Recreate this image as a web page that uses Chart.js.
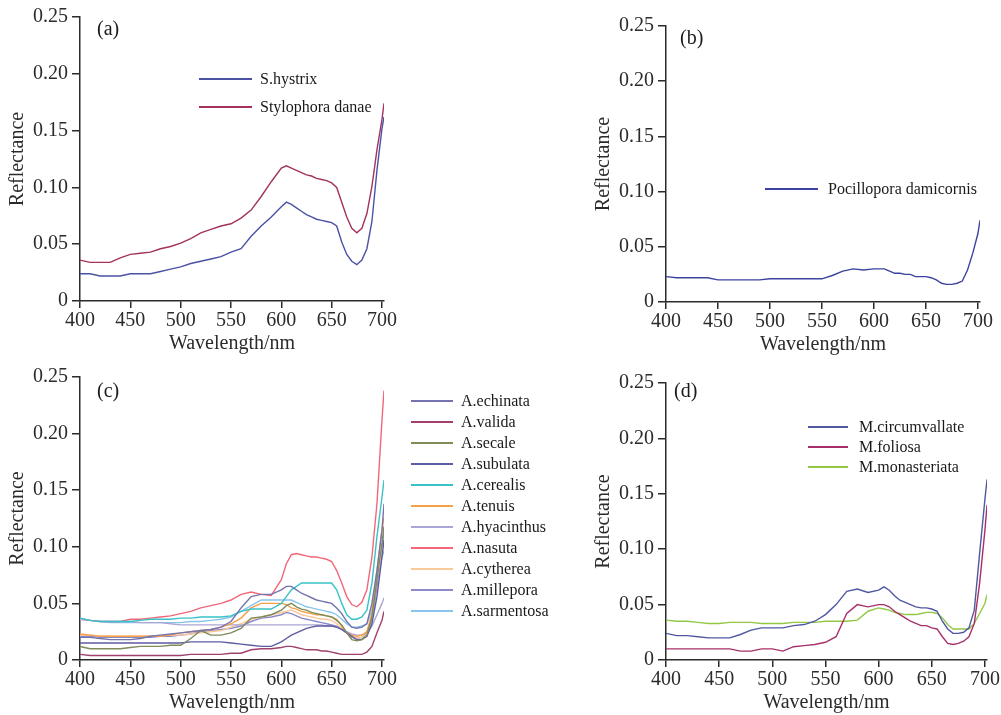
<!DOCTYPE html>
<html>
<head>
<meta charset="utf-8">
<script src="https://cdn.jsdelivr.net/npm/chart.js@4/dist/chart.umd.min.js"></script>
<style>
  html, body { margin: 0; padding: 0; background: #fff; }
  #page { position: relative; width: 1001px; height: 715px; overflow: hidden; }
  #page canvas { position: absolute; left: 0; top: 0; }
</style>
</head>
<body>
<div id="page">
  <canvas id="panelA" width="1001" height="715"></canvas>
  <canvas id="panelB" width="1001" height="715"></canvas>
  <canvas id="panelC" width="1001" height="715"></canvas>
  <canvas id="panelD" width="1001" height="715"></canvas>
</div>
<script>
// wavelength sampling (nm), shared by every spectrum below
const wavelength = [
  400, 410, 420, 430, 440, 450, 460, 470, 480, 490, 500,
  510, 520, 530, 540, 550, 560, 570, 580, 590, 600,
  605, 610, 615, 620, 625, 630, 635, 640, 645, 650,
  655, 660, 665, 670, 675, 680, 685, 690, 695, 700,
  702
];
const xTicks = [400, 450, 500, 550, 600, 650, 700];
const yTicks = [0, 0.05, 0.1, 0.15, 0.2, 0.25];

// (a)
const sHystrix = [
  .024, .024, .022, .022, .022, .024, .024, .024, .026, .028, .030,
  .033, .035, .037, .039, .043, .046, .057, .066, .074, .083,
  .087, .085, .082, .079, .076, .074, .072, .071, .070, .069,
  .066, .052, .041, .035, .032, .036, .046, .070, .115, .152,
  .162
];
const stylophoraDanae = [
  .036, .034, .034, .034, .038, .041, .042, .043, .046, .048, .051,
  .055, .060, .063, .066, .068, .073, .080, .092, .105, .117,
  .119, .117, .115, .113, .111, .110, .108, .107, .106, .104,
  .100, .087, .074, .064, .060, .064, .077, .101, .133, .160,
  .174
];

// (b)
const pocillopora = [
  .023, .022, .022, .022, .022, .020, .020, .020, .020, .020, .021,
  .021, .021, .021, .021, .021, .024, .028, .030, .029, .030,
  .030, .030, .028, .026, .026, .025, .025, .023, .023, .023,
  .022, .020, .017, .016, .016, .017, .019, .029, .044, .062,
  .074
];

// (c) Acropora
const aEchinata = [
  .020, .020, .019, .018, .018, .018, .019, .021, .022, .023, .024,
  .025, .026, .027, .029, .034, .046, .056, .058, .058, .062,
  .065, .065, .062, .059, .057, .055, .053, .052, .051, .050,
  .046, .041, .034, .029, .028, .029, .032, .050, .079, .115,
  .138
];
const aValida = [
  .005, .004, .004, .004, .004, .004, .004, .004, .004, .004, .004,
  .005, .005, .005, .005, .006, .006, .009, .010, .010, .011,
  .012, .012, .011, .010, .009, .009, .009, .008, .008, .007,
  .006, .005, .005, .005, .005, .005, .007, .012, .024, .035,
  .043
];
const aSecale = [
  .012, .010, .010, .010, .010, .011, .012, .012, .012, .013, .013,
  .019, .026, .022, .022, .024, .028, .037, .038, .040, .044,
  .048, .050, .047, .045, .044, .042, .041, .040, .039, .038,
  .035, .031, .024, .018, .017, .018, .022, .038, .071, .103,
  .118
];
const aSubulata = [
  .015, .015, .015, .015, .015, .015, .015, .015, .015, .015, .015,
  .016, .016, .016, .016, .015, .014, .013, .012, .012, .016,
  .019, .022, .024, .026, .028, .029, .030, .030, .030, .030,
  .029, .027, .024, .021, .018, .018, .021, .032, .056, .091,
  .106
];
const aCerealis = [
  .037, .035, .034, .034, .034, .034, .035, .036, .036, .036, .037,
  .037, .038, .038, .038, .039, .043, .045, .045, .045, .050,
  .056, .062, .065, .068, .068, .068, .068, .068, .068, .068,
  .062, .050, .040, .036, .036, .038, .044, .068, .109, .144,
  .159
];
const aTenuis = [
  .023, .022, .021, .021, .021, .021, .021, .021, .021, .022, .024,
  .025, .026, .027, .029, .032, .037, .046, .050, .050, .050,
  .049, .046, .045, .043, .042, .041, .040, .040, .039, .038,
  .036, .030, .024, .022, .021, .022, .025, .041, .079, .115,
  .126
];
const aHyacinthus = [
  .036, .035, .034, .034, .034, .034, .033, .033, .033, .032, .031,
  .031, .031, .031, .031, .031, .031, .031, .031, .031, .031,
  .031, .031, .031, .031, .031, .031, .031, .031, .030, .030,
  .029, .027, .025, .023, .022, .022, .024, .030, .040, .050,
  .055
];
const aNasuta = [
  .036, .035, .034, .034, .034, .036, .036, .037, .038, .039, .041,
  .043, .046, .048, .050, .053, .058, .060, .058, .057, .071,
  .085, .093, .094, .093, .092, .091, .091, .090, .089, .087,
  .079, .068, .056, .049, .047, .051, .062, .091, .138, .212,
  .238
];
const aCytherea = [
  .022, .022, .021, .021, .021, .021, .021, .021, .022, .022, .022,
  .023, .024, .025, .026, .029, .032, .036, .038, .040, .042,
  .043, .044, .042, .040, .039, .038, .037, .036, .036, .035,
  .032, .028, .024, .021, .019, .020, .024, .038, .071, .097,
  .103
];
const aMillepora = [
  .021, .021, .020, .020, .020, .020, .020, .020, .021, .021, .022,
  .023, .025, .026, .027, .028, .030, .034, .037, .038, .040,
  .042, .041, .039, .037, .036, .035, .034, .033, .032, .031,
  .030, .027, .024, .020, .019, .020, .024, .036, .065, .100,
  .113
];
const aSarmentosa = [
  .037, .035, .034, .033, .033, .033, .033, .033, .033, .033, .033,
  .034, .034, .035, .036, .038, .043, .048, .053, .053, .053,
  .053, .053, .051, .049, .047, .046, .045, .044, .043, .042,
  .040, .036, .032, .029, .029, .030, .032, .044, .071, .091,
  .096
];

// (d) Montipora
const mCircumvallate = [
  .024, .022, .022, .021, .020, .020, .020, .023, .027, .029, .029,
  .029, .031, .032, .035, .041, .050, .062, .064, .061, .063,
  .066, .063, .058, .054, .052, .050, .048, .047, .047, .046,
  .044, .035, .028, .024, .024, .025, .029, .045, .096, .145,
  .163
];
const mFoliosa = [
  .010, .010, .010, .010, .010, .010, .010, .008, .008, .010, .010,
  .008, .012, .013, .014, .016, .021, .042, .050, .048, .050,
  .050, .048, .044, .041, .038, .035, .033, .031, .031, .029,
  .028, .021, .015, .014, .015, .017, .021, .033, .069, .117,
  .140
];
const mMonasteriata = [
  .036, .035, .035, .034, .033, .033, .034, .034, .034, .033, .033,
  .033, .034, .034, .034, .035, .035, .035, .036, .044, .047,
  .046, .045, .043, .042, .041, .041, .041, .042, .043, .043,
  .042, .038, .032, .028, .028, .028, .028, .033, .042, .051,
  .059
];

const FONT = '"Liberation Serif", "Times New Roman", serif';
const INK = "#2b2b2b";
Chart.defaults.font.family = FONT;
Chart.defaults.color = INK;

function toPoints(values) {
  return values.map((v, i) => ({ x: wavelength[i], y: v }));
}

function series(label, values, color) {
  return {
    label,
    data: toPoints(values),
    borderColor: color,
    borderWidth: 1.4,
    pointRadius: 0,
    fill: false,
    tension: 0,
  };
}

// legend drawn inside/next to the plot: short line + name
const lineLegend = {
  id: "lineLegend",
  afterDraw(chart, args, opts) {
    const ctx = chart.ctx;
    ctx.save();
    ctx.font = `16px ${FONT}`;
    ctx.textBaseline = "middle";
    chart.data.datasets.forEach((ds, i) => {
      const y = opts.y + i * opts.spacing;
      ctx.strokeStyle = ds.borderColor;
      ctx.lineWidth = 2;
      ctx.beginPath();
      ctx.moveTo(opts.x, y);
      ctx.lineTo(opts.x + opts.len, y);
      ctx.stroke();
      ctx.fillStyle = "#1a1a1a";
      ctx.fillText(ds.label, opts.x + opts.len + opts.gap, y + 1);
    });
    ctx.restore();
  },
};

// "(a)", "(b)" ... tag in the upper left of the plot
const panelTag = {
  id: "panelTag",
  afterDraw(chart, args, opts) {
    const ctx = chart.ctx;
    ctx.save();
    ctx.font = `20px ${FONT}`;
    ctx.fillStyle = "#1a1a1a";
    ctx.textBaseline = "middle";
    ctx.fillText(opts.text, opts.x, opts.y);
    ctx.restore();
  },
};

const Y_AXIS_W = 78;
const X_AXIS_H = 55;

function makePanel(id, area, datasets, tag, legend) {
  const page = { w: 1001, h: 715 };
  return new Chart(document.getElementById(id), {
    type: "line",
    data: { datasets },
    plugins: [lineLegend, panelTag],
    options: {
      responsive: false,
      animation: false,
      devicePixelRatio: 1,
      events: [],
      layout: {
        padding: {
          left: area.left - Y_AXIS_W,
          top: area.top,
          right: page.w - area.right,
          bottom: page.h - area.bottom - X_AXIS_H,
        },
      },
      plugins: {
        legend: { display: false },
        tooltip: { enabled: false },
        lineLegend: legend,
        panelTag: tag,
      },
      scales: {
        x: {
          type: "linear",
          min: 400,
          max: 702,
          afterFit: (s) => { s.height = X_AXIS_H; },
          afterBuildTicks: (s) => { s.ticks = xTicks.map((v) => ({ value: v })); },
          border: { display: true, color: INK, width: 1.5 },
          grid: { drawOnChartArea: false, drawTicks: true, tickLength: 7, color: INK, lineWidth: 1.5 },
          ticks: { font: { size: 20 }, color: INK, padding: 1, maxRotation: 0, autoSkip: false },
          title: { display: true, text: "Wavelength/nm", font: { size: 20 }, color: INK, padding: 0 },
        },
        y: {
          min: 0,
          max: 0.25,
          afterFit: (s) => { s.width = Y_AXIS_W; },
          afterBuildTicks: (s) => { s.ticks = yTicks.map((v) => ({ value: v })); },
          border: { display: true, color: INK, width: 1.5 },
          grid: { drawOnChartArea: false, drawTicks: true, tickLength: 8, color: INK, lineWidth: 1.5 },
          ticks: {
            font: { size: 20 },
            color: INK,
            padding: 4,
            callback: (v) => (v === 0 ? "0" : v.toFixed(2)),
          },
          title: { display: true, text: "Reflectance", font: { size: 20 }, color: INK, padding: { top: 4, bottom: 4 } },
        },
      },
    },
  });
}

makePanel("panelA", { left: 80, top: 17, right: 384, bottom: 301 }, [
  series("S.hystrix", sHystrix, "#4b52a3"),
  series("Stylophora danae", stylophoraDanae, "#a3325e"),
], { text: "(a)", x: 97, y: 30 }, { x: 199, y: 79, len: 53, gap: 8, spacing: 28 });

makePanel("panelB", { left: 666, top: 26, right: 980, bottom: 302 }, [
  series("Pocillopora damicornis", pocillopora, "#3c43a0"),
], { text: "(b)", x: 680, y: 39 }, { x: 765, y: 189, len: 53, gap: 10, spacing: 28 });

makePanel("panelC", { left: 80, top: 377, right: 384, bottom: 660 }, [
  series("A.echinata", aEchinata, "#7474b0"),
  series("A.valida", aValida, "#a0406e"),
  series("A.secale", aSecale, "#7e8c5a"),
  series("A.subulata", aSubulata, "#5c5ca2"),
  series("A.cerealis", aCerealis, "#38c2c6"),
  series("A.tenuis", aTenuis, "#f7a04a"),
  series("A.hyacinthus", aHyacinthus, "#aaa6d6"),
  series("A.nasuta", aNasuta, "#f06878"),
  series("A.cytherea", aCytherea, "#fbc89a"),
  series("A.millepora", aMillepora, "#8c88cc"),
  series("A.sarmentosa", aSarmentosa, "#88c4ec"),
], { text: "(c)", x: 97, y: 392 }, { x: 411, y: 401, len: 42, gap: 8, spacing: 21 });

makePanel("panelD", { left: 666, top: 383, right: 988, bottom: 660 }, [
  series("M.circumvallate", mCircumvallate, "#5058a2"),
  series("M.foliosa", mFoliosa, "#a8306a"),
  series("M.monasteriata", mMonasteriata, "#92c846"),
], { text: "(d)", x: 674, y: 392 }, { x: 808, y: 427, len: 40, gap: 11, spacing: 20 });
</script>
</body>
</html>
